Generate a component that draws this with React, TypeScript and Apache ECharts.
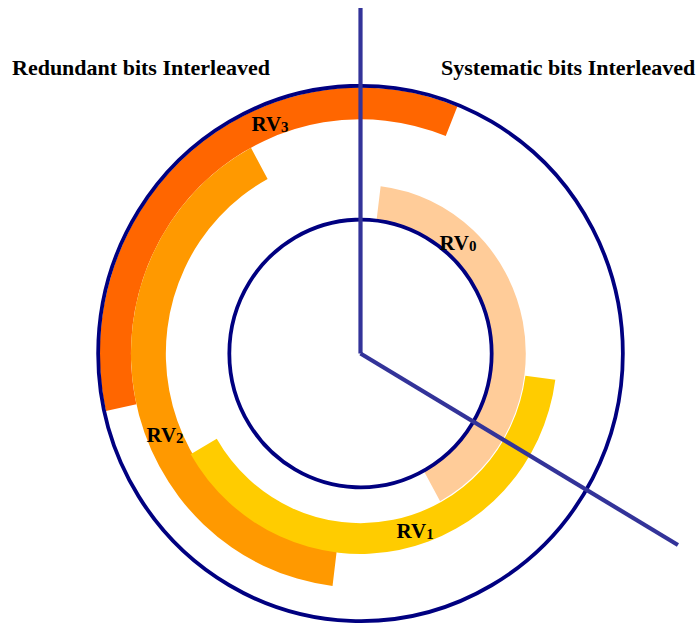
import React, { useEffect, useRef } from 'react';
import * as echarts from 'echarts';

// ring segments (radius units: outer circle = 100; angles: degrees clockwise from 12 o'clock)
const arcNames = ['RV', 'RV', 'RV', 'RV'];
const arcSubs = ['0', '1', '2', '3'];
const arcInner = [50, 63.4, 74.2, 87.5];
const arcOuter = [63, 74.9, 87.5, 99.4];
const arcStart = [7, 97.5, 187, 257.5];
const arcEnd = [151.2, 239.8, 331.5, 381.8];
const arcColors = ['#FFCC99', '#FFCC00', '#FF9900', '#FF6600'];
const labelRadius = [55.6, 70.1, 79.9, 93.1];
const labelAngle = [41.4, 162.9, 247.4, 338.5];
const drawOrder = [3, 2, 1, 0];

const circleRadii = [50, 100];
const spokeAngles = [0, 121.1];
const spokeLengths = [130.4, 139.9];

const titles = ['Redundant bits Interleaved', 'Systematic bits Interleaved'];

const SX = 0.99;
const SY = 1.01;
const FONT = '"Liberation Serif", "Times New Roman", serif';

export default function App() {
  const ref = useRef<HTMLDivElement>(null);
  useEffect(() => {
    if (!ref.current) return;
    const chart = echarts.init(ref.current, null, { renderer: 'svg' });

    const center = (api: any) => api.coord([0, 0]);

    const option: any = {
      animation: false,
      backgroundColor: '#ffffff',
      polar: { center: [360.5, 353.5], radius: 371 },
      radiusAxis: { type: 'value', min: 0, max: 140, show: false },
      angleAxis: { type: 'value', min: 0, max: 360, startAngle: 90, clockwise: true, show: false },
      graphic: [
        {
          type: 'text', left: 12, top: 56,
          style: { text: titles[0], font: `bold 22px ${FONT}`, fill: '#000' },
        },
        {
          type: 'text', left: 441, top: 56,
          style: { text: titles[1], font: `bold 22px ${FONT}`, fill: '#000' },
        },
      ],
      series: [
        {
          type: 'custom',
          coordinateSystem: 'polar',
          silent: true,
          data: drawOrder.map((i) => [arcInner[i], arcOuter[i], arcStart[i], arcEnd[i], i]),
          renderItem: (params: any, api: any) => {
            const i = api.value(4);
            const c = center(api);
            const pIn = api.coord([api.value(0), api.value(2)]);
            const pOut = api.coord([api.value(1), api.value(2)]);
            const pEnd = api.coord([api.value(1), api.value(3)]);
            const r0 = Math.hypot(pIn[0] - c[0], pIn[1] - c[1]);
            const r = Math.hypot(pOut[0] - c[0], pOut[1] - c[1]);
            const s = Math.atan2(pOut[1] - c[1], pOut[0] - c[0]);
            let e = Math.atan2(pEnd[1] - c[1], pEnd[0] - c[0]);
            while (e <= s) e += 2 * Math.PI;
            return {
              type: 'sector',
              originX: c[0], originY: c[1], scaleX: SX, scaleY: SY,
              shape: { cx: c[0], cy: c[1], r0, r, startAngle: s, endAngle: e, clockwise: true },
              style: { fill: arcColors[i], stroke: null },
            };
          },
        },
        {
          type: 'custom',
          coordinateSystem: 'polar',
          silent: true,
          data: circleRadii.map((r) => [r, 0]),
          renderItem: (params: any, api: any) => {
            const c = center(api);
            const p = api.coord([api.value(0), 0]);
            const r = Math.hypot(p[0] - c[0], p[1] - c[1]);
            return {
              type: 'circle',
              originX: c[0], originY: c[1], scaleX: SX, scaleY: SY,
              shape: { cx: c[0], cy: c[1], r },
              style: { fill: 'none', stroke: '#000080', lineWidth: 3.8 },
            };
          },
        },
        {
          type: 'custom',
          coordinateSystem: 'polar',
          silent: true,
          data: spokeAngles.map((a, k) => [spokeLengths[k], a]),
          renderItem: (params: any, api: any) => {
            const c = center(api);
            const p = api.coord([api.value(0), api.value(1)]);
            return {
              type: 'line',
              shape: { x1: c[0], y1: c[1], x2: p[0], y2: p[1] },
              style: { stroke: '#333399', lineWidth: 4.2 },
            };
          },
        },
        {
          type: 'custom',
          coordinateSystem: 'polar',
          silent: true,
          data: labelAngle.map((a, i) => [labelRadius[i], a, i]),
          renderItem: (params: any, api: any) => {
            const i = api.value(2);
            const p = api.coord([api.value(0), api.value(1)]);
            return {
              type: 'text',
              x: p[0], y: p[1],
              style: {
                text: `{a|${arcNames[i]}}{b|${arcSubs[i]}}`,
                align: 'center',
                verticalAlign: 'middle',
                rich: {
                  a: { fontSize: 21, fontWeight: 'bold', fontFamily: FONT, fill: '#000', verticalAlign: 'bottom' },
                  b: { fontSize: 15, fontWeight: 'bold', fontFamily: FONT, fill: '#000', verticalAlign: 'bottom' },
                },
              },
            };
          },
        },
      ],
    };
    chart.setOption(option);
    return () => chart.dispose();
  }, []);
  return (
    <div
      ref={ref}
      style={{ position: 'absolute', left: 0, top: 0, width: 700, height: 624, background: '#fff' }}
    />
  );
}
